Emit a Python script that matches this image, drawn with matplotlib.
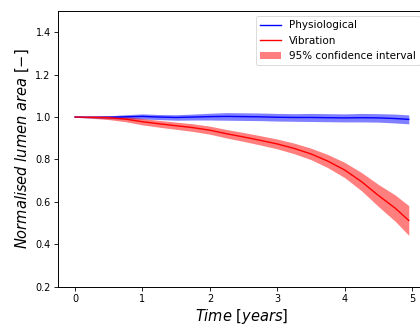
import numpy as np
import matplotlib.pyplot as plt

# time in years
t = [0, 0.25, 0.5, 0.75, 1.0, 1.25, 1.5, 1.75, 2.0, 2.25, 2.5, 2.75, 3.0,
     3.25, 3.5, 3.75, 4.0, 4.25, 4.5, 4.75, 4.95]

phys_mean = [1.0, 0.999, 0.999, 1.001, 1.003, 1.0, 0.998, 1.0, 1.002, 1.003,
             1.002, 1.001, 0.999, 0.998, 0.998, 0.997, 0.996, 0.997, 0.996, 0.993, 0.989]
phys_half = [0.001, 0.004, 0.007, 0.01, 0.012, 0.012, 0.013, 0.014, 0.016, 0.018,
             0.018, 0.018, 0.018, 0.018, 0.019, 0.019, 0.019, 0.02, 0.02, 0.021, 0.021]

vib_mean = [1.0, 0.999, 0.997, 0.99, 0.978, 0.968, 0.959, 0.950, 0.938, 0.921,
            0.906, 0.890, 0.873, 0.852, 0.826, 0.792, 0.750, 0.695, 0.630, 0.570, 0.512]
vib_half = [0.001, 0.005, 0.009, 0.012, 0.015, 0.016, 0.017, 0.018, 0.019, 0.02,
            0.021, 0.022, 0.023, 0.025, 0.027, 0.031, 0.036, 0.043, 0.052, 0.062, 0.07]

t = np.array(t)
phys_mean = np.array(phys_mean)
phys_half = np.array(phys_half)
vib_mean = np.array(vib_mean)
vib_half = np.array(vib_half)

fig = plt.figure(figsize=(4.2, 3.25), dpi=100)
ax = fig.add_axes([0.139, 0.118, 0.874, 0.848])

ax.fill_between(t, phys_mean - phys_half, phys_mean + phys_half, color='blue', alpha=0.5, lw=0)
ax.fill_between(t, vib_mean - vib_half, vib_mean + vib_half, color='red', alpha=0.5, lw=0,
                label='95% confidence interval')
ax.plot(t, phys_mean, color='blue', lw=1.0, label='Physiological')
ax.plot(t, vib_mean, color='red', lw=1.0, label='Vibration')

ax.set_ylim(0.2, 1.5)
ax.set_xlim(-0.2475, 5.1975)
ax.set_yticks([0.2, 0.4, 0.6, 0.8, 1.0, 1.2, 1.4])
ax.set_xticks([0, 1, 2, 3, 4, 5])
ax.tick_params(labelsize=7, length=3, width=0.6, pad=2.5)
for s in ax.spines.values():
    s.set_linewidth(0.7)
ax.set_xlabel(r'$Time\ [years]$', fontsize=10.5, labelpad=2)
ax.set_ylabel(r'$Normalised\ lumen\ area\ [-]$', fontsize=10.5, labelpad=3)

h, l = ax.get_legend_handles_labels()
leg = ax.legend([h[1], h[2], h[0]], [l[1], l[2], l[0]], loc='upper right', fontsize=7.5)
leg.get_frame().set_linewidth(0.6)

fig.savefig('out.png', dpi=100)
